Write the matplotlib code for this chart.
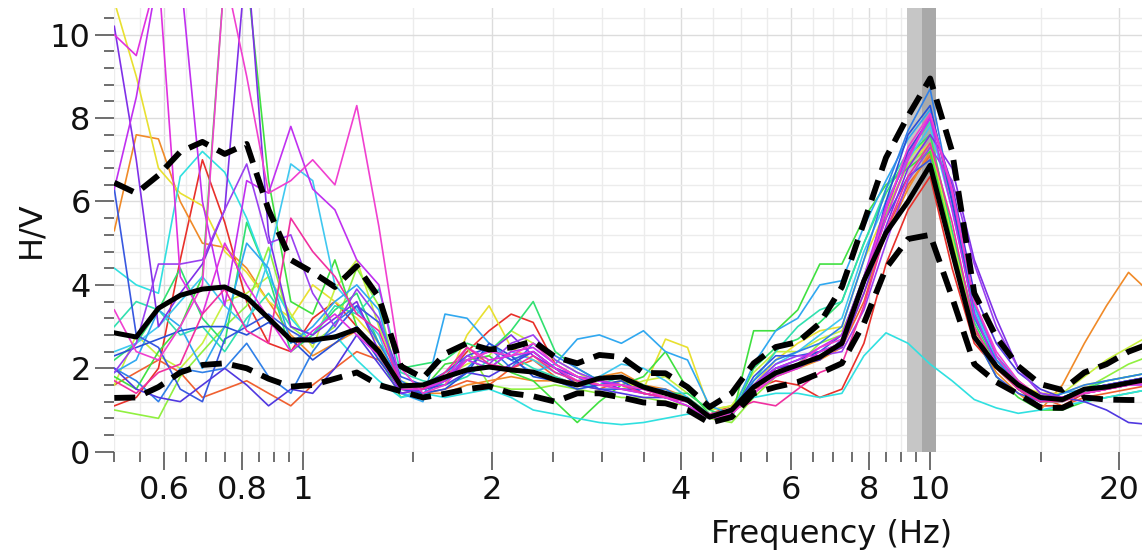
import numpy as np
import matplotlib.pyplot as plt
from matplotlib.ticker import FixedLocator, NullFormatter

# frequenze (Hz)
freq = [0.500, 0.542, 0.588, 0.637, 0.691, 0.750, 0.813, 0.881, 0.956, 1.036, 1.124, 1.218,
        1.321, 1.432, 1.553, 1.684, 1.826, 1.980, 2.147, 2.328, 2.524, 2.737, 2.968, 3.218,
        3.490, 3.784, 4.103, 4.449, 4.824, 5.231, 5.672, 6.150, 6.669, 7.232, 7.842, 8.503,
        9.220, 10.00, 10.84, 11.76, 12.75, 13.82, 14.99, 16.25, 17.62, 19.11, 20.72, 22.47]

# curva media e deviazione standard
hv_mean = [2.85, 2.75, 3.44, 3.75, 3.90, 3.95, 3.70, 3.20, 2.68, 2.68, 2.75, 2.94,
           2.40, 1.58, 1.60, 1.79, 1.96, 2.03, 1.96, 1.91, 1.72, 1.60, 1.76, 1.79,
           1.55, 1.40, 1.24, 0.83, 1.00, 1.55, 1.89, 2.08, 2.27, 2.60, 4.10, 5.25,
           6.00, 6.87, 4.80, 2.75, 2.05, 1.60, 1.30, 1.25, 1.50, 1.55, 1.65, 1.75]
hv_upper = [6.45, 6.20, 6.63, 7.19, 7.43, 7.14, 7.38, 5.80, 4.60, 4.30, 3.95, 4.45,
            3.70, 2.05, 1.77, 2.35, 2.60, 2.45, 2.50, 2.65, 2.27, 2.12, 2.32, 2.27,
            1.89, 1.88, 1.55, 1.07, 1.40, 2.12, 2.51, 2.63, 3.08, 3.95, 5.50, 7.05,
            8.05, 8.95, 7.20, 3.80, 2.75, 2.05, 1.62, 1.48, 1.90, 2.10, 2.40, 2.60]
hv_lower = [1.29, 1.30, 1.55, 1.90, 2.08, 2.12, 2.00, 1.75, 1.56, 1.60, 1.75, 1.90,
            1.60, 1.45, 1.30, 1.39, 1.50, 1.57, 1.40, 1.33, 1.20, 1.40, 1.40, 1.30,
            1.18, 1.16, 1.00, 0.69, 0.83, 1.40, 1.55, 1.67, 1.88, 2.12, 3.08, 4.40,
            5.10, 5.20, 3.70, 2.10, 1.67, 1.38, 1.06, 1.05, 1.30, 1.25, 1.24, 1.24]

# intervallo di f0 (min, f0, max)
f0_band = [9.18, 9.70, 10.21]

# finestre singole
win_01 = [1.1, 1.3, 2.0, 4.6, 7.0, 5.5, 3.6, 2.6, 2.4, 3.2, 3.6, 3.0,
          2.4, 1.5, 1.6, 1.8, 2.4, 2.9, 3.3, 3.1, 2.1, 1.8, 1.6, 1.6,
          1.4, 1.3, 1.2, 0.9, 1.0, 1.5, 1.7, 1.6, 1.3, 1.5, 2.6, 4.5,
          5.8, 6.6, 4.4, 2.6, 2.0, 1.5, 1.1, 1.1, 1.4, 1.5, 1.6, 1.7]
win_02 = [1.6, 1.9, 2.2, 1.9, 1.3, 1.5, 1.7, 1.4, 1.1, 1.6, 2.0, 2.4,
          2.2, 1.5, 1.4, 1.5, 1.7, 1.6, 2.0, 2.2, 1.8, 1.6, 1.5, 1.7,
          1.5, 1.3, 1.2, 0.9, 1.1, 1.5, 2.0, 2.1, 2.3, 2.5, 3.6, 5.3,
          6.4, 7.1, 4.9, 2.9, 2.2, 1.7, 1.3, 1.1, 1.3, 1.4, 1.5, 1.6]
win_03 = [5.3, 7.6, 7.5, 6.0, 5.0, 4.9, 4.4, 3.6, 2.8, 2.3, 2.6, 2.9,
          2.5, 1.6, 1.4, 1.4, 1.6, 1.7, 1.8, 1.7, 1.7, 1.7, 1.8, 1.9,
          1.6, 1.5, 1.3, 0.9, 1.0, 1.4, 1.8, 2.0, 2.2, 2.5, 3.8, 5.2,
          6.3, 7.2, 5.0, 2.8, 1.9, 1.4, 1.0, 1.6, 2.6, 3.5, 4.3, 3.8]
win_04 = [10.8, 9.0, 6.8, 6.2, 5.9, 4.8, 4.3, 3.6, 3.2, 4.0, 3.6, 3.2,
          2.6, 1.6, 1.5, 1.6, 2.8, 3.5, 2.5, 2.2, 2.0, 1.7, 1.6, 1.7,
          1.5, 2.7, 2.5, 1.0, 1.1, 1.6, 2.2, 2.6, 2.9, 3.0, 4.6, 5.8,
          6.9, 7.4, 5.1, 3.0, 2.0, 1.6, 1.4, 1.4, 1.6, 1.7, 1.8, 1.9]
win_05 = [1.6, 2.8, 2.3, 2.0, 2.6, 3.6, 3.8, 4.2, 3.3, 2.5, 3.9, 4.6,
          3.0, 1.7, 1.5, 1.8, 2.1, 2.3, 2.9, 2.6, 2.2, 1.9, 1.6, 1.5,
          1.7, 1.8, 1.4, 1.0, 1.1, 1.9, 2.4, 2.4, 2.7, 2.9, 4.0, 5.6,
          7.0, 7.6, 5.2, 3.2, 2.2, 1.6, 1.3, 1.4, 1.8, 2.2, 2.5, 2.8]
win_06 = [1.0, 0.9, 0.8, 1.8, 2.4, 3.0, 3.5, 4.9, 3.0, 2.6, 3.0, 4.4,
          3.5, 1.5, 1.6, 1.7, 2.5, 1.6, 1.5, 1.5, 1.6, 1.5, 1.4, 1.3,
          1.3, 1.2, 1.1, 0.8, 0.7, 1.3, 1.8, 2.1, 2.6, 2.8, 4.2, 5.7,
          6.9, 7.3, 5.0, 3.0, 2.0, 1.5, 1.2, 1.2, 1.5, 1.8, 2.1, 2.3]
win_07 = [1.8, 1.5, 2.4, 3.0, 4.2, 11.5, 11.5, 6.5, 3.6, 3.3, 4.6, 3.0,
          2.3, 1.3, 1.5, 2.1, 2.2, 2.3, 1.9, 1.7, 1.2, 0.7, 1.2, 1.6,
          1.8, 2.4, 1.5, 0.9, 0.8, 2.9, 2.9, 3.4, 4.5, 4.5, 5.6, 6.4,
          6.8, 7.2, 5.0, 2.8, 1.8, 1.3, 1.0, 1.0, 1.2, 1.3, 1.4, 1.5]
win_08 = [2.2, 2.6, 3.4, 4.4, 3.2, 2.6, 5.5, 4.2, 2.4, 2.8, 3.4, 3.8,
          2.6, 2.0, 2.1, 2.2, 2.6, 2.4, 2.9, 3.6, 2.4, 2.0, 1.7, 1.6,
          1.5, 1.4, 1.4, 1.0, 0.8, 2.0, 2.5, 2.7, 3.1, 3.6, 5.0, 6.2,
          7.1, 7.6, 5.3, 3.1, 2.1, 1.5, 1.2, 1.3, 1.5, 1.7, 1.8, 1.9]
win_09 = [3.0, 3.6, 3.4, 2.8, 3.0, 2.4, 3.2, 3.8, 3.0, 2.8, 3.5, 3.3,
          3.9, 1.9, 1.7, 1.6, 1.8, 2.2, 2.3, 2.0, 1.8, 1.6, 1.6, 1.8,
          1.6, 1.4, 1.3, 0.9, 1.0, 1.7, 2.4, 3.0, 3.4, 3.6, 5.0, 6.3,
          7.2, 7.9, 6.0, 3.5, 2.3, 1.6, 1.2, 1.2, 1.4, 1.6, 1.7, 1.8]
win_10 = [4.4, 4.0, 3.8, 6.6, 7.2, 6.7, 5.6, 4.2, 3.2, 2.6, 2.8, 2.2,
          1.7, 1.3, 1.4, 1.3, 1.4, 1.5, 1.3, 1.0, 0.9, 0.8, 0.7, 0.65,
          0.7, 0.8, 0.9, 0.9, 1.0, 1.3, 1.4, 1.4, 1.3, 1.4, 2.3, 2.85,
          2.6, 2.1, 1.7, 1.25, 1.05, 0.92, 1.0, 1.1, 1.2, 1.3, 1.4, 1.5]
win_11 = [2.4, 2.6, 3.0, 3.6, 4.2, 3.5, 3.0, 4.6, 6.9, 6.5, 4.0, 3.4,
          2.8, 1.4, 1.3, 1.9, 2.2, 2.0, 2.4, 2.2, 1.9, 1.7, 1.8, 2.1,
          2.0, 1.7, 1.3, 0.8, 0.9, 1.6, 2.1, 2.4, 2.8, 3.2, 4.8, 6.0,
          7.0, 7.8, 5.8, 3.4, 2.2, 1.6, 1.3, 1.3, 1.5, 1.6, 1.7, 1.8]
win_12 = [1.9, 2.2, 3.4, 3.0, 2.0, 3.0, 5.0, 4.4, 2.6, 3.0, 3.6, 4.0,
          3.4, 1.4, 1.2, 3.3, 3.2, 2.6, 2.2, 1.9, 2.1, 2.7, 2.8, 2.6,
          2.9, 2.4, 2.2, 1.1, 0.9, 2.1, 2.9, 3.2, 4.0, 4.1, 5.4, 6.5,
          7.5, 8.2, 6.2, 3.5, 2.3, 1.7, 1.2, 1.4, 1.5, 1.6, 1.7, 1.8]
win_13 = [2.0, 1.7, 1.2, 2.0, 1.9, 2.0, 2.6, 1.8, 1.4, 2.4, 3.1, 3.5,
          2.6, 1.7, 1.4, 1.7, 2.0, 2.5, 2.0, 2.6, 2.3, 2.0, 1.7, 1.6,
          1.5, 1.5, 1.2, 0.8, 0.9, 1.7, 2.2, 2.4, 2.6, 3.0, 4.6, 6.3,
          7.7, 8.7, 6.0, 3.2, 2.2, 1.6, 1.2, 1.4, 1.6, 1.7, 1.8, 1.9]
win_14 = [6.3, 2.8, 2.5, 1.5, 1.2, 2.7, 3.0, 3.3, 2.9, 2.6, 2.9, 3.5,
          3.1, 1.8, 1.6, 1.9, 2.3, 2.5, 2.2, 2.4, 2.0, 1.8, 1.5, 1.5,
          1.5, 1.4, 1.2, 0.8, 0.9, 1.8, 2.3, 2.3, 2.4, 2.8, 4.2, 5.6,
          6.6, 7.0, 4.9, 2.8, 1.8, 1.4, 1.2, 1.3, 1.5, 1.6, 1.7, 1.8]
win_15 = [2.0, 1.5, 1.3, 1.2, 1.6, 2.0, 1.6, 1.1, 1.5, 1.4, 2.0, 2.8,
          2.1, 1.4, 1.5, 1.6, 1.9, 1.8, 2.1, 2.4, 2.0, 1.6, 1.5, 1.4,
          1.3, 1.3, 1.2, 0.9, 1.0, 1.6, 2.0, 2.1, 2.2, 2.7, 4.0, 5.8,
          7.2, 8.0, 6.4, 3.8, 2.6, 1.9, 1.5, 1.3, 1.2, 1.0, 0.7, 0.65]
win_16 = [2.3, 2.5, 2.7, 2.9, 3.0, 3.0, 2.8, 3.1, 2.7, 2.2, 2.6, 3.0,
          2.2, 1.5, 1.4, 1.5, 1.9, 2.6, 2.3, 1.8, 1.7, 1.5, 1.6, 1.7,
          1.4, 1.3, 1.2, 0.85, 0.9, 1.6, 2.0, 2.2, 2.4, 2.6, 4.0, 6.0,
          7.6, 8.3, 6.0, 3.3, 2.1, 1.5, 1.2, 1.3, 1.5, 1.6, 1.7, 1.8]
win_17 = [10.2, 7.0, 3.0, 3.8, 4.5, 5.8, 12.0, 5.2, 3.0, 2.8, 3.2, 3.6,
          2.4, 1.4, 1.5, 1.7, 2.2, 2.4, 2.8, 2.3, 2.0, 1.8, 1.7, 1.5,
          1.4, 1.3, 1.1, 0.8, 0.9, 1.5, 1.9, 2.0, 2.3, 2.5, 3.8, 5.4,
          6.8, 7.6, 6.8, 4.6, 3.2, 2.0, 1.4, 1.3, 1.4, 1.5, 1.6, 1.7]
win_18 = [1.9, 2.6, 4.5, 4.5, 4.6, 5.8, 6.9, 5.0, 5.2, 3.8, 3.0, 3.9,
          3.2, 1.6, 1.5, 1.7, 2.3, 2.1, 2.6, 2.8, 2.2, 1.9, 1.7, 1.6,
          1.5, 1.4, 1.2, 0.8, 1.0, 1.6, 2.1, 2.3, 2.3, 2.4, 3.4, 5.0,
          6.5, 7.3, 6.5, 4.5, 3.0, 2.0, 1.4, 1.3, 1.5, 1.6, 1.7, 1.8]
win_19 = [6.3, 8.5, 11.5, 11.5, 6.0, 3.5, 6.5, 6.2, 7.8, 6.3, 5.8, 4.6,
          4.0, 1.6, 1.5, 1.8, 2.2, 2.0, 2.4, 2.5, 2.1, 1.8, 1.7, 1.6,
          1.5, 1.4, 1.2, 0.8, 0.9, 1.6, 2.0, 2.2, 2.5, 2.8, 4.2, 5.9,
          7.1, 8.0, 5.8, 3.3, 2.1, 1.5, 1.2, 1.3, 1.4, 1.5, 1.6, 1.6]
win_20 = [10.0, 9.5, 11.5, 4.2, 3.3, 5.0, 4.0, 3.2, 2.4, 2.9, 3.3, 2.8,
          2.3, 1.5, 1.5, 1.7, 2.5, 2.2, 2.3, 2.4, 2.0, 1.7, 1.6, 1.5,
          1.4, 1.3, 1.1, 0.8, 0.9, 1.4, 1.8, 2.0, 2.4, 2.6, 4.0, 5.6,
          7.0, 8.1, 6.2, 3.6, 2.3, 1.6, 1.3, 1.3, 1.4, 1.5, 1.6, 1.7]
win_21 = [1.7, 1.4, 1.9, 2.1, 3.3, 3.9, 2.9, 2.6, 5.6, 4.8, 4.2, 3.3,
          2.9, 1.6, 1.5, 1.9, 2.5, 2.1, 2.0, 2.3, 1.9, 1.7, 1.6, 1.6,
          1.4, 1.3, 1.2, 0.9, 1.0, 1.2, 1.1, 1.5, 1.9, 2.1, 3.5, 5.3,
          6.6, 7.4, 5.5, 3.0, 2.0, 1.5, 1.2, 1.2, 1.4, 1.5, 1.6, 1.7]
win_22 = [3.4, 2.4, 2.2, 3.0, 4.0, 11.5, 9.0, 6.2, 6.5, 7.0, 6.4, 8.3,
          5.4, 2.0, 1.4, 1.6, 2.2, 2.4, 2.3, 2.6, 2.1, 1.8, 1.6, 1.6,
          1.5, 1.3, 1.2, 0.8, 0.9, 1.4, 1.9, 2.1, 2.5, 2.7, 4.1, 5.8,
          7.3, 8.1, 6.3, 3.6, 2.4, 1.7, 1.3, 1.3, 1.4, 1.5, 1.6, 1.7]

windows = [win_01, win_02, win_03, win_04, win_05, win_06, win_07, win_08, win_09, win_10, win_11,
           win_12, win_13, win_14, win_15, win_16, win_17, win_18, win_19, win_20, win_21, win_22]
win_colors = ['#e8302a', '#f06030', '#f08a28', '#e8e030', '#c8f040', '#90f040', '#40e040',
              '#30e070', '#30e0b0', '#30e0e0', '#40c8f0', '#30a8f0', '#3080e8', '#3858e0',
              '#5038e0', '#2850d8', '#8030e8', '#9a40f0', '#c030f0', '#e030e0', '#f030a0',
              '#f040d0']

x_major = [0.6, 0.8, 1, 2, 4, 6, 8, 10, 20]
x_labels = ['0.6', '0.8', '1', '2', '4', '6', '8', '10', '20']
x_minor = [0.5, 0.55, 0.65, 0.7, 0.75, 0.85, 0.9, 0.95, 1.5, 2.5, 3, 3.5, 4.5, 5, 5.5,
           6.5, 7, 7.5, 8.5, 9, 9.5, 15]

W, H = 1142, 556
fig = plt.figure(figsize=(W / 100, H / 100), dpi=100)
x0, x1, ytop, ybot = 114.3, 1142, 8, 451.7
ax = fig.add_axes([x0 / W, (H - ybot) / H, (x1 - x0) / W, (ybot - ytop) / H])

ax.set_xscale('log')
ax.set_xlim(0.5, 21.77)
ax.set_ylim(0, 10.64)

# banda di f0
ax.axvspan(f0_band[0], f0_band[1], color='#c6c6c6', lw=0, zorder=1)
ax.axvspan(f0_band[1], f0_band[2], color='#a9a9a9', lw=0, zorder=1)

for w, c in zip(windows, win_colors):
    ax.plot(freq, w, color=c, lw=1.2, zorder=2)

ax.plot(freq, hv_mean, color='black', lw=3.6, zorder=4, solid_joinstyle='round')
ax.plot(freq, hv_upper, color='black', lw=4.2, ls=(0, (3.6, 1.8)), zorder=5)
ax.plot(freq, hv_lower, color='black', lw=4.2, ls=(0, (3.6, 1.8)), zorder=5)

# assi e griglia
ax.xaxis.set_major_locator(FixedLocator(x_major))
ax.xaxis.set_minor_locator(FixedLocator(x_minor))
ax.set_xticklabels(x_labels)
ax.xaxis.set_minor_formatter(NullFormatter())
ax.yaxis.set_major_locator(FixedLocator([0, 2, 4, 6, 8, 10]))
ax.yaxis.set_minor_locator(FixedLocator(np.arange(0, 10.5, 0.4)))

ax.grid(which='major', color='#dcdcdc', lw=1.0, zorder=0)
ax.grid(which='minor', color='#ececec', lw=1.0, zorder=0)
ax.set_axisbelow(True)
for s in ax.spines.values():
    s.set_visible(False)

ax.tick_params(axis='both', which='both', direction='out', colors='#555555', labelcolor='#111111',
               labelsize=23, width=1.2)
ax.tick_params(axis='x', which='major', length=13, pad=4)
ax.tick_params(axis='x', which='minor', length=7)
ax.tick_params(axis='y', which='major', length=14, pad=3)
ax.tick_params(axis='y', which='minor', length=7)

ax.set_xlabel('Frequency (Hz)', fontsize=23, color='#111111')
ax.xaxis.set_label_coords((832 - x0) / (x1 - x0), (ybot - 519) / (ybot - ytop))
ax.set_ylabel('H/V', fontsize=23, color='#111111')
ax.yaxis.set_label_coords((46 - x0) / (x1 - x0), 0.5)

plt.savefig('out.png', dpi=100)
